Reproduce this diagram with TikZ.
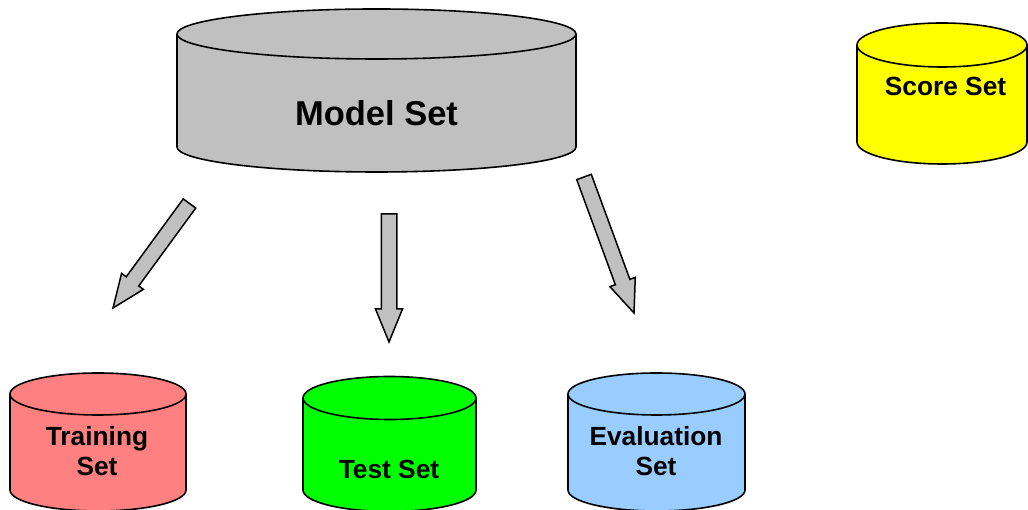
\documentclass[tikz,border=0pt]{standalone}
\usepackage{fontspec}
\setmainfont{Liberation Sans}
\usetikzlibrary{calc}

\definecolor{modelgray}{HTML}{C0C0C0}
\definecolor{trainred}{HTML}{FF8080}
\definecolor{testgreen}{HTML}{00FF00}
\definecolor{evalblue}{HTML}{99CCFF}
\definecolor{scoreyellow}{HTML}{FFFF00}

\tikzset{
  outline/.style={draw=black, line width=1.6pt, line join=round},
  setlabel/.style={font=\bfseries\fontsize{26.3}{30}\selectfont, align=center, inner sep=0pt},
  biglabel/.style={font=\bfseries\fontsize{34.5}{40}\selectfont, align=center, inner sep=0pt},
  blockarrow/.style={fill=modelgray, draw=black, line width=1.5pt, line join=miter},
}

% Database cylinder: #1 fill, #2 left x, #3 right x, #4 top centre y, #5 bottom centre y, #6 end radius
\newcommand\dbcylinder[6]{%
  \pgfmathsetmacro\cylrx{(#3-#2)/2}%
  \path[outline, fill=#1] (#2,#4) -- (#2,#5)
    arc[start angle=180, end angle=360, x radius=\cylrx pt, y radius=#6pt]
    -- (#3,#4)
    arc[start angle=0, end angle=180, x radius=\cylrx pt, y radius=#6pt] -- cycle;
  \draw[outline] (#2,#4)
    arc[start angle=180, end angle=360, x radius=\cylrx pt, y radius=#6pt];
}

% Block arrow from tail coordinate #1 to tip coordinate #2
\newcommand\blockarrowpath[2]{%
  \coordinate (#1-base) at ($(#2)!33pt!(#1)$);
  \draw[blockarrow]
    ($(#1)!7.75pt!90:(#2)$) -- ($(#1)!7.75pt!-90:(#2)$)
    -- ($(#1-base)!7.75pt!-90:(#2)$) -- ($(#1-base)!13.5pt!-90:(#2)$)
    -- (#2)
    -- ($(#1-base)!13.5pt!90:(#2)$) -- ($(#1-base)!7.75pt!90:(#2)$)
    -- cycle;
}

\begin{document}
\begin{tikzpicture}[x=1pt, y=1pt]
  \useasboundingbox (0,0) rectangle (1028,510);

  % data sets
  \dbcylinder{modelgray}{177}{576}{476}{363}{25}
  \node[biglabel] (model) at (376.5,396.7) {Model Set};

  \dbcylinder{scoreyellow}{857}{1027}{465}{368}{22}
  \node[setlabel] (score) at (945.5,424) {Score Set};

  \dbcylinder{trainred}{10}{186}{116}{20}{21}
  \node[setlabel] (train) at (97,59) {Training\\Set};

  \dbcylinder{testgreen}{303}{476}{112}{20}{21.5}
  \node[setlabel] (test) at (389,40.5) {Test Set};

  \dbcylinder{evalblue}{568}{745}{116}{20}{21}
  \node[setlabel] (eval) at (656,58.5) {Evaluation\\Set};

  % split arrows
  \coordinate (trainTail) at (189.5,306.5);
  \coordinate (trainTip) at (113,202);
  \coordinate (testTail) at (389,296);
  \coordinate (testTip) at (389,168);
  \coordinate (evalTail) at (584,333);
  \coordinate (evalTip) at (634,197);

  \blockarrowpath{trainTail}{trainTip}
  \blockarrowpath{testTail}{testTip}
  \blockarrowpath{evalTail}{evalTip}
\end{tikzpicture}
\end{document}
